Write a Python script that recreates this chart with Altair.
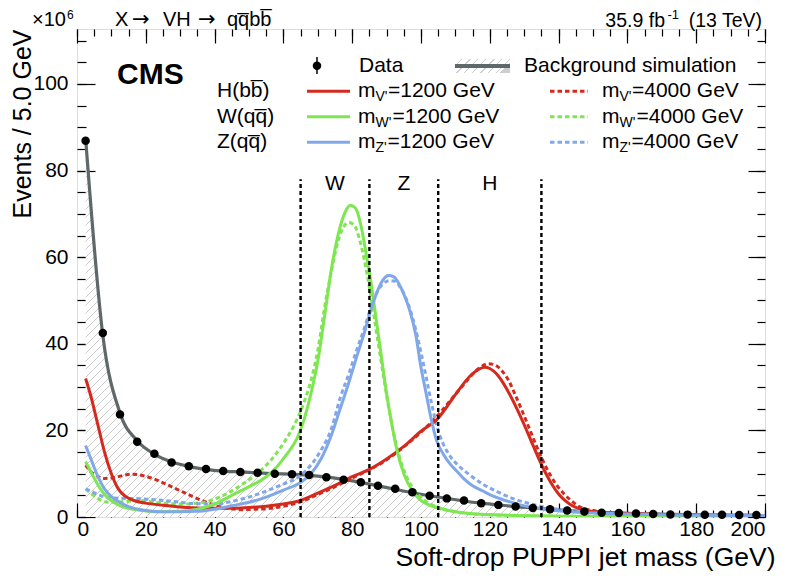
import altair as alt
import pandas as pd

FONT = "Liberation Sans"
W, H = 688, 488
XMAX, YMAX = 200, 112.7

# ---------------- data ----------------
bin_centers = [2.5, 7.5, 12.5, 17.5, 22.5, 27.5, 32.5, 37.5, 42.5, 47.5,
               52.5, 57.5, 62.5, 67.5, 72.5, 77.5, 82.5, 87.5, 92.5, 97.5,
               102.5, 107.5, 112.5, 117.5, 122.5, 127.5, 132.5, 137.5, 142.5, 147.5,
               152.5, 157.5, 162.5, 167.5, 172.5, 177.5, 182.5, 187.5, 192.5, 197.5]
data_y = [86.9, 42.5, 23.7, 17.4, 14.6, 12.6, 11.7, 11.1, 10.6, 10.4,
          10.2, 10.0, 9.9, 9.7, 9.2, 8.6, 8.0, 7.2, 6.5, 5.7,
          4.9, 4.3, 3.8, 3.2, 2.8, 2.4, 2.1, 1.8, 1.5, 1.25,
          1.0, 0.9, 0.8, 0.7, 0.6, 0.55, 0.5, 0.5, 0.45, 0.45]
bkg_y = [87.5, 42.0, 24.0, 17.6, 14.5, 12.7, 11.7, 11.0, 10.6, 10.4,
         10.2, 10.0, 9.9, 9.6, 9.2, 8.7, 8.0, 7.2, 6.4, 5.6,
         4.9, 4.3, 3.7, 3.2, 2.8, 2.4, 2.1, 1.8, 1.5, 1.25,
         1.05, 0.9, 0.8, 0.7, 0.6, 0.55, 0.5, 0.48, 0.45, 0.42]

h1200_x = [2.5, 4, 6, 8, 10, 12, 14, 17, 20, 25, 30, 35, 40, 45, 50, 55, 60, 65, 70, 75, 80, 85,
           90, 95, 100, 104.6, 110.4, 114.2, 117, 118.5, 120, 122, 124, 126, 128, 130, 132, 134,
           136, 138, 140, 142, 144, 147, 150, 155, 160, 170, 180, 190, 200]
h1200_y = [32.0, 28.0, 21.5, 15.0, 10.0, 6.5, 4.8, 3.7, 3.2, 2.7, 2.3, 2.1, 2.0, 2.0, 2.2, 2.5, 3.0,
           3.8, 5.5, 7.3, 9.3, 11.0, 13.4, 16.3, 19.8, 22.5, 28.7, 32.5, 34.2, 34.6, 34.3, 33.0,
           30.8, 28.0, 24.8, 21.3, 17.6, 13.9, 10.5, 7.6, 5.3, 3.7, 2.6, 1.7, 1.3, 1.0, 0.8, 0.55,
           0.4, 0.3, 0.25]

h4000_x = [2.5, 4, 6, 8, 10, 13, 16, 19, 22, 25, 28, 31, 34, 37, 40, 44, 48, 52, 56, 60, 65, 70,
           75, 80, 85, 90, 95, 100, 103, 106, 109, 112, 115, 117.5, 119.5, 121.5, 123.5, 125.5,
           127.5, 129.5, 131.5, 133.5, 135.5, 137.5, 139.5, 141.5, 143.5, 146, 150, 155, 160,
           170, 180, 190, 200]
h4000_y = [12.0, 10.5, 9.4, 8.9, 9.0, 9.5, 9.9, 9.6, 8.9, 7.9, 6.8, 5.7, 4.6, 3.6, 2.7, 2.0, 1.7,
           1.8, 2.0, 2.5, 3.5, 5.2, 7.0, 9.0, 10.9, 13.2, 16.2, 19.6, 21.9, 24.5, 27.4, 30.2,
           33.0, 34.7, 35.4, 35.1, 33.8, 31.5, 28.0, 24.3, 20.4, 16.5, 12.9, 9.8, 7.3, 5.4, 3.9,
           2.4, 1.5, 1.0, 0.8, 0.55, 0.4, 0.3, 0.25]

w1200_x = [2.5, 4, 6, 8, 10, 12, 15, 20, 25, 30, 35, 40, 45, 50, 55, 58, 61, 64, 66, 68, 70, 72,
           74, 76, 78, 79.5, 81, 82.5, 84, 85.5, 87, 88.5, 90, 91.5, 93, 95, 97.5, 100, 103,
           106.5, 110, 116, 125, 140, 160, 200]
w1200_y = [12.8, 10.5, 7.5, 5.2, 3.8, 2.8, 2.0, 1.4, 1.2, 1.3, 1.8, 3.0, 5.0, 7.0, 9.3, 11.5,
           14.5, 18.2, 22.5, 28.5, 36.0, 46.5, 57.5, 65.5, 70.5, 72.0, 71.3, 67.5, 61.0, 54.0,
           45.5, 37.0, 28.5, 21.5, 15.5, 10.0, 6.0, 3.8, 2.6, 1.8, 1.2, 0.7, 0.4, 0.2, 0.1, 0.05]

w4000_x = [2.5, 4, 6, 9, 13, 18, 24, 30, 36, 42, 47, 52, 56, 60, 63, 66, 68, 70, 72, 74, 76,
           77.5, 79, 80.5, 82, 83.5, 85, 86.5, 88, 89.5, 91, 92.5, 94, 96, 98.5, 101, 105, 110,
           120, 140, 200]
w4000_y = [6.5, 5.5, 4.3, 3.4, 3.5, 3.8, 3.3, 3.0, 3.3, 4.8, 7.0, 9.8, 12.8, 17.0, 21.0, 26.5,
           31.5, 38.5, 48.5, 57.0, 64.0, 67.0, 68.0, 67.5, 64.5, 59.5, 53.0, 45.5, 38.0, 30.5,
           23.5, 17.8, 13.2, 9.0, 5.8, 3.9, 2.2, 1.2, 0.5, 0.2, 0.05]

z1200_x = [2.5, 4, 6, 8, 10, 12, 15, 20, 25, 30, 35, 40, 45, 50, 55, 60, 65, 68, 71, 74, 76.5,
           79, 81.5, 83.5, 85.5, 87.5, 89, 90.5, 92, 93.5, 95, 96.8, 98.5, 100, 101.5, 103,
           104.6, 106.5, 108.5, 110.5, 112.5, 115, 118, 121, 125, 131.5, 137.5, 146, 160, 180, 200]
z1200_y = [16.5, 13.5, 9.5, 6.5, 4.7, 3.6, 2.4, 1.5, 1.2, 1.2, 1.3, 1.8, 2.6, 3.4, 4.6, 6.2,
           8.0, 10.0, 13.5, 19.0, 25.0, 31.0, 37.5, 42.5, 48.0, 52.5, 54.8, 55.8, 55.5, 54.0,
           51.5, 47.5, 42.0, 34.5, 28.5, 22.5, 17.5, 14.5, 12.2, 10.5, 8.8, 7.2, 6.0, 4.8, 3.7,
           2.3, 1.6, 1.1, 0.7, 0.4, 0.3]

z4000_x = [2.5, 4, 6, 9, 14, 19, 24, 29, 34, 40, 45, 50, 55, 60, 65, 68, 71, 74, 76.5, 79, 81.5,
           83.5, 85.5, 87.5, 89.5, 91, 92.5, 94, 95.5, 97, 98.5, 100, 101.5, 103, 104.6, 106.5,
           108.5, 111, 114, 118, 122, 127, 132, 138, 146, 160, 180, 200]
z4000_y = [6.5, 6.0, 5.2, 4.5, 4.3, 4.2, 3.9, 3.5, 3.1, 3.0, 3.6, 4.6, 6.0, 7.6, 9.6, 12.0, 15.5,
           20.5, 27.5, 33.0, 39.0, 43.5, 48.5, 52.3, 54.2, 54.6, 54.4, 53.0, 50.8, 47.5, 43.2,
           38.0, 32.3, 26.5, 21.0, 16.8, 14.0, 11.8, 9.8, 7.6, 5.9, 4.2, 3.0, 2.0, 1.3, 0.8, 0.5,
           0.3]

region_edges = [65, 85, 105, 135]
region_top = 78
region_names = ["W", "Z", "H"]
region_name_x = [75, 95, 120]
region_name_y = 76.8

x_major = [0, 20, 40, 60, 80, 100, 120, 140, 160, 180, 200]
x_minor = list(range(0, 201, 5))
y_major = [0, 20, 40, 60, 80, 100]
y_minor = list(range(0, 111, 5))

RED, GREEN, BLUE, GRAY = "#d42a1e", "#7ee651", "#80a8e8", "#5e6868"
DASH = [4.5, 3]

# ---------------- frames ----------------
data_df = pd.DataFrame({"x": bin_centers, "y": data_y})
bkg_df = pd.DataFrame({"x": bin_centers, "y": bkg_y})
one = pd.DataFrame({"a": [0]})

xs = alt.Scale(domain=[0, XMAX], nice=False, zero=False)
ys = alt.Scale(domain=[0, YMAX], nice=False, zero=False)


def hatch(w, h, period, frac=0.16, line="#cdcdcd", bg="#ffffff"):
    y2 = h / w
    norm = 1 + y2 * y2
    dt = period / (w * norm)
    stops = []
    t = 0.0
    while t < 1.0:
        b = min(t + dt * (1 - frac), 1.0)
        c = min(t + dt, 1.0)
        stops += [{"offset": round(t, 5), "color": bg}, {"offset": round(b, 5), "color": bg},
                  {"offset": round(b, 5), "color": line}, {"offset": round(c, 5), "color": line}]
        t += dt
    return alt.LinearGradient(gradient="linear", stops=stops, x1=0, y1=0, x2=1, y2=y2)


def ax(orient, values, size, **kw):
    return alt.Axis(orient=orient, values=values, tickSize=size, offset=-size, domain=False,
                    grid=False, ticks=True, tickColor="black", tickWidth=1.2, **kw)


def axis_layer(xaxis, yaxis):
    return alt.Chart(data_df).mark_point(opacity=0).encode(
        x=alt.X("x:Q", scale=xs, axis=xaxis), y=alt.Y("y:Q", scale=ys, axis=yaxis))


lab = dict(labelFont=FONT, labelFontSize=21, labelColor="black")
tit = dict(titleFont=FONT, titleFontWeight="normal", titleColor="black")

axA = axis_layer(
    ax("bottom", x_major, 14, labels=True, labelPadding=1, title="Soft-drop PUPPI jet mass (GeV)",
       titleX=W + 10, titleY=62, titleAlign="right", titleBaseline="alphabetic",
       titleFontSize=26.5, **lab, **tit),
    ax("left", y_major, 18, labels=True, labelPadding=9, title="Events / 5.0 GeV",
       titleAnchor="end", titlePadding=-3, titleFontSize=25, **lab, **tit))
axB = axis_layer(ax("bottom", x_minor, 7, labels=False, title=None),
                 ax("left", y_minor, 9, labels=False, title=None))
axC = axis_layer(ax("top", x_major, 14, labels=False, title=None),
                 ax("right", y_major, 17, labels=False, title=None))
axD = axis_layer(ax("top", x_minor, 7, labels=False, title=None),
                 ax("right", y_minor, 8, labels=False, title=None))

X = lambda f="x": alt.X(f"{f}:Q", scale=xs, axis=None)
Y = lambda f="y": alt.Y(f"{f}:Q", scale=ys, axis=None)

area_w = (bin_centers[-1] - bin_centers[0]) * W / XMAX
area_h = max(bkg_y) * H / YMAX
hatch_area = alt.Chart(bkg_df).mark_area(
    interpolate="monotone", color=hatch(area_w, area_h, 8)).encode(x=X(), y=Y())
bkg_line = alt.Chart(bkg_df).mark_line(
    interpolate="monotone", color=GRAY, strokeWidth=3.2).encode(x=X(), y=Y())


def sig(xv, yv, color, dashed):
    df = pd.DataFrame({"x": xv, "y": yv})
    kw = dict(strokeDash=DASH) if dashed else {}
    return alt.Chart(df).mark_line(interpolate="monotone", color=color, strokeWidth=3,
                                   clip=True, **kw).encode(x=X(), y=Y())


signals = [sig(h4000_x, h4000_y, RED, True), sig(w4000_x, w4000_y, GREEN, True),
           sig(z4000_x, z4000_y, BLUE, True), sig(h1200_x, h1200_y, RED, False),
           sig(w1200_x, w1200_y, GREEN, False), sig(z1200_x, z1200_y, BLUE, False)]

points = alt.Chart(data_df).mark_circle(size=72, color="black", opacity=1).encode(x=X(), y=Y())

reg_df = pd.DataFrame({"x": region_edges, "y0": [0] * len(region_edges),
                       "y1": [region_top] * len(region_edges)})
reg_lines = alt.Chart(reg_df).mark_rule(color="black", strokeWidth=2.4, strokeDash=[4, 3]).encode(
    x=X(), y=Y("y0"), y2="y1:Q")
reg_lab_df = pd.DataFrame({"x": region_name_x, "y": [region_name_y] * 3, "t": region_names})
reg_labels = alt.Chart(reg_lab_df).mark_text(font=FONT, fontSize=21, color="black",
                                             baseline="middle").encode(x=X(), y=Y(), text="t:N")


def txt(s, x, y, size=21, align="left", baseline="middle", weight="normal", font=FONT):
    return alt.Chart(one).mark_text(text=s, font=font, fontSize=size, align=align,
                                    baseline=baseline, fontWeight=weight, color="black").encode(
        x=alt.value(x), y=alt.value(y))


def rule(x1, x2, y, color, width=3, dash=None):
    kw = dict(strokeDash=dash) if dash else {}
    return alt.Chart(one).mark_rule(color=color, strokeWidth=width, **kw).encode(
        x=alt.value(x1), x2=alt.value(x2), y=alt.value(y))


TY = -3
TR = -2
texts = [
    txt("\u00d710", -45, TY, 20, baseline="alphabetic"),
    txt("6", -10, -10, 12, baseline="alphabetic"),
    txt("X", 38, TY, 20, baseline="alphabetic"),
    txt("\u2192", 55, TY, 21, baseline="alphabetic", font="DejaVu Sans"),
    txt("VH", 86, TY, 20, baseline="alphabetic"),
    txt("\u2192", 121, TY, 21, baseline="alphabetic", font="DejaVu Sans"),
    txt("qq\u0305bb\u0305", 150, TY, 20, baseline="alphabetic"),
    txt(" (13 TeV)", 685, TR, 19.5, align="right", baseline="alphabetic"),
    txt("-1", 602, TR - 8, 13, align="right", baseline="alphabetic"),
    txt("35.9 fb", 588, TR, 19.5, align="right", baseline="alphabetic"),
    txt("CMS", 40, 46, 30, weight="bold"),
]

rows_y = [62.2, 87.7, 113.2]
row_names = ["H(bb\u0305)", "W(qq\u0305)", "Z(qq\u0305)"]
subs = ["V'", "W'", "Z'"]
sub_w = [12.5, 17, 12]
colors = [RED, GREEN, BLUE]
legend = []
# data entry
legend.append(alt.Chart(one).mark_circle(size=72, color="black", opacity=1).encode(
    x=alt.value(240), y=alt.value(36.7)))
legend.append(alt.Chart(one).mark_rule(color="black", strokeWidth=1.5).encode(
    x=alt.value(240), y=alt.value(28), y2=alt.value(45)))
legend.append(txt("Data", 282, 36.7))
# background entry
bk_box = alt.Chart(one).mark_rect(color=hatch(55, 14, 8)).encode(
    x=alt.value(378), x2=alt.value(433), y=alt.value(30), y2=alt.value(44))
legend.append(bk_box)
legend.append(rule(378, 433, 37, GRAY, 4))
legend.append(txt("Background simulation", 447, 36.7))
for i in range(3):
    yy = rows_y[i]
    legend.append(txt(row_names[i], 140, yy))
    legend.append(rule(230, 273, yy, colors[i], 3))
    legend.append(rule(473, 511, yy, colors[i], 3, DASH))
    for x0, mass in ((281, "1200"), (525, "4000")):
        legend.append(txt("m", x0, yy))
        legend.append(txt(subs[i], x0 + 17.5, yy + 6, 14))
        legend.append(txt("=" + mass + " GeV", x0 + 17.5 + sub_w[i], yy))

chart = alt.layer(
    axA, axB, axC, axD, hatch_area, bkg_line, *signals, points, reg_lines, reg_labels,
    *texts, *legend
).resolve_axis(x="independent", y="independent").properties(
    width=W, height=H,
    autosize=alt.AutoSizeParams(type="none"),
    padding={"left": 69, "top": 21, "right": 13, "bottom": 55},
).configure_view(stroke="black", strokeWidth=1.5).configure(font=FONT)

chart.save("out.html", embed_options={"renderer": "svg", "actions": False})
